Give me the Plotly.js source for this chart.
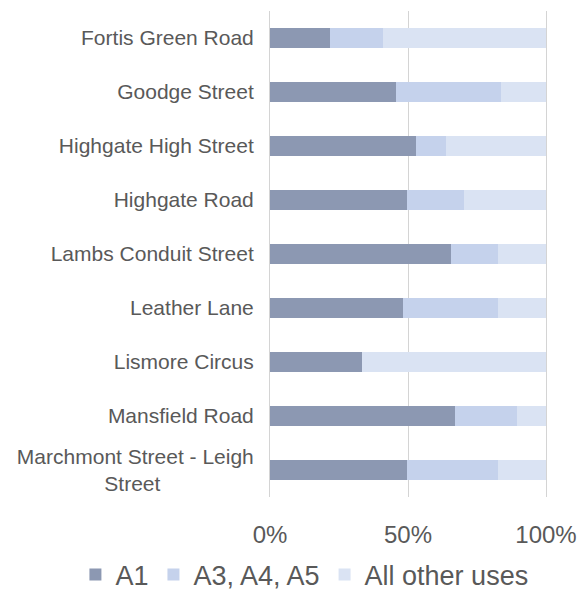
<!DOCTYPE html>
<html>
<head>
<meta charset="utf-8">
<script src="https://cdn.plot.ly/plotly-3.0.1.min.js"></script>
<style>html,body{margin:0;padding:0;background:#fff;}#chart{width:584px;height:610px;}</style>
</head>
<body>
<div id="chart"></div>
<script>
const categories = [
  "Fortis Green Road",
  "Goodge Street",
  "Highgate High Street",
  "Highgate Road",
  "Lambs Conduit Street",
  "Leather Lane",
  "Lismore Circus",
  "Mansfield Road",
  "Marchmont Street - Leigh<br>Street<span style='color:rgba(0,0,0,0)'>________</span>"
];
const seriesNames = ["A1", "A3, A4, A5", "All other uses"];
const a1 = [0.217, 0.456, 0.530, 0.497, 0.654, 0.481, 0.332, 0.670, 0.497];
const a3a4a5 = [0.192, 0.380, 0.108, 0.207, 0.172, 0.345, 0.000, 0.224, 0.329];
const otherUses = a1.map((v, i) => 1 - v - a3a4a5[i]);
const tickVals = [0, 0.5, 1];
const tickText = ["0%", "50%", "100%"];
const colors = ["#8c98b2", "#c5d2ec", "#dae3f3"];

const seriesValues = [a1, a3a4a5, otherUses];
const traces = seriesValues.map((vals, i) => ({
  type: "bar",
  orientation: "h",
  name: seriesNames[i],
  x: vals,
  y: categories,
  marker: {color: colors[i], line: {width: 0}},
  hoverinfo: "x+name"
}));

const font = "Liberation Sans, Arial, sans-serif";
const gridColor = "#d4d4d4";
const layout = {
  width: 584,
  height: 610,
  margin: {l: 270, r: 38, t: 11, b: 106},
  barmode: "stack",
  bargap: 0.635,
  paper_bgcolor: "#ffffff",
  plot_bgcolor: "#ffffff",
  showlegend: true,
  legend: {
    orientation: "h",
    x: -0.705, xanchor: "left",
    y: -0.11, yanchor: "top",
    font: {family: font, size: 27, color: "#595959"},
    traceorder: "normal",
    itemwidth: 30
  },
  xaxis: {
    range: [0, 1],
    tickvals: tickVals,
    ticktext: tickText,
    showgrid: true,
    gridcolor: gridColor,
    gridwidth: 1,
    zeroline: false,
    showline: false,
    ticks: "",
    layer: "above traces",
    ticklabelstandoff: 21,
    tickfont: {family: font, size: 24, color: "#595959"},
    fixedrange: true
  },
  yaxis: {
    autorange: "reversed",
    showgrid: false,
    zeroline: false,
    showline: true,
    mirror: true,
    linecolor: gridColor,
    linewidth: 1,
    layer: "above traces",
    ticks: "",
    ticklabelstandoff: 11,
    tickfont: {family: font, size: 21, color: "#595959"},
    fixedrange: true
  }
};

Plotly.newPlot("chart", traces, layout, {displayModeBar: false, staticPlot: true});
</script>
</body>
</html>
